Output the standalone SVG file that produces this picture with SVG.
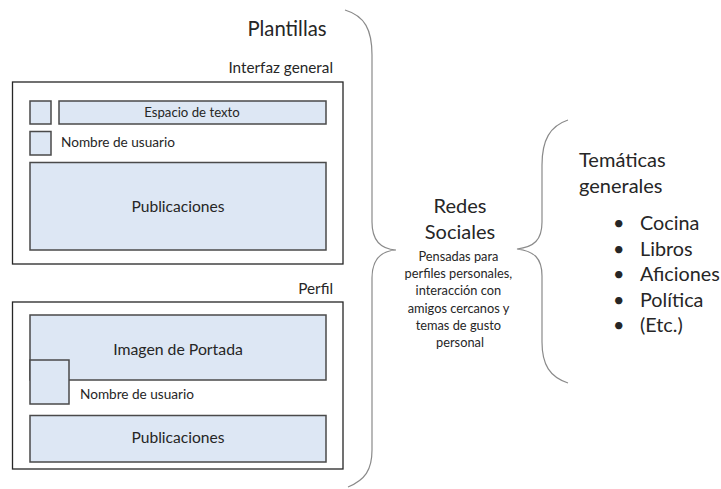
<svg xmlns="http://www.w3.org/2000/svg" width="721" height="489" viewBox="0 0 721 489">
<style>
text{font-family:Lato,"Open Sans","Liberation Sans",sans-serif;fill:#262626}
.frame{fill:#fff;stroke:#262626;stroke-width:1.3}
.box{fill:#dde7f4;stroke:#4a4a4a;stroke-width:1.5}
.brace{fill:none;stroke:#8a8a8a;stroke-width:1.2}
.c{text-anchor:middle}
.r{text-anchor:end}
</style>
<rect width="721" height="489" fill="#fff"/>
<g id="title"><text x="287" y="36" class="c" font-size="20.3">Plantillas</text></g>
<g id="interfaz">
<text x="333" y="73" class="r" font-size="15.3">Interfaz general</text>
<rect class="frame" x="12.5" y="82" width="330.5" height="182"/>
<rect class="box" x="30" y="101" width="21" height="23"/>
<rect class="box" x="59" y="101" width="267" height="23"/>
<text x="192" y="117" class="c" font-size="13.2">Espacio de texto</text>
<rect class="box" x="30" y="131.5" width="21" height="23.5"/>
<text x="61" y="147" font-size="13.6">Nombre de usuario</text>
<rect class="box" x="30" y="162.5" width="296" height="87.5"/>
<text x="178" y="212" class="c" font-size="15.6">Publicaciones</text>
</g>
<g id="perfil">
<text x="333" y="294" class="r" font-size="15.3">Perfil</text>
<rect class="frame" x="12.5" y="302" width="330.5" height="167"/>
<rect class="box" x="30" y="315" width="296" height="65"/>
<text x="178" y="355" class="c" font-size="15.8">Imagen de Portada</text>
<rect class="box" x="30" y="360" width="39" height="44"/>
<text x="80" y="399" font-size="13.6">Nombre de usuario</text>
<rect class="box" x="30" y="415.5" width="296" height="46.5"/>
<text x="178" y="443" class="c" font-size="15.6">Publicaciones</text>
</g>
<g id="connectors">
<path class="brace" d="M345 10 C365 16 372 30 372 55 L372 222 C372 240 380 249 396 250 C380 251 372 260 372 278 L372 450 C372 470 365 480 348 487"/>
<path class="brace" d="M568 120 C550 126 542 140 542 165 L542 222 C542 240 534 247 517 249 C534 251 542 258 542 276 L542 342 C542 365 550 377 568 383"/>
</g>
<g id="redes">
<text x="460" y="213" class="c" font-size="20">Redes</text>
<text x="460" y="239" class="c" font-size="20">Sociales</text>
<text class="c" font-size="12.8">
<tspan x="460" y="261">Pensadas para</tspan>
<tspan x="460" y="278">perfiles personales,</tspan>
<tspan x="460" y="295">interacción con</tspan>
<tspan x="460" y="313">amigos cercanos y</tspan>
<tspan x="460" y="330">temas de gusto</tspan>
<tspan x="460" y="347">personal</tspan>
</text>
</g>
<g id="tematicas">
<text x="579" y="167" font-size="20">Temáticas</text>
<text x="579" y="193" font-size="20">generales</text>
<g font-size="19.8">
<text x="613" y="230">•</text><text x="640" y="230">Cocina</text>
<text x="613" y="256">•</text><text x="640" y="256">Libros</text>
<text x="613" y="281">•</text><text x="640" y="281">Aficiones</text>
<text x="613" y="307">•</text><text x="640" y="307">Política</text>
<text x="613" y="332">•</text><text x="640" y="332">(Etc.)</text>
</g>
</g>
</svg>
